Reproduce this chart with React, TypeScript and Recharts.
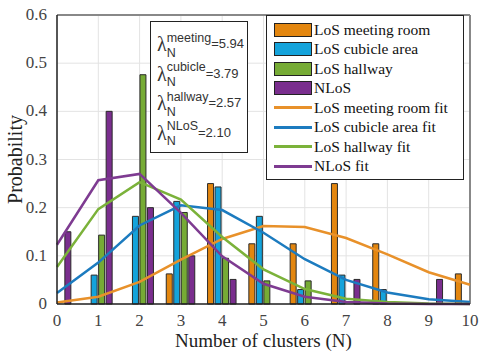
import React from 'react';
import { ComposedChart, Bar, Line, XAxis, YAxis, CartesianGrid, Legend, ReferenceLine } from 'recharts';

const clusters = [0, 1, 2, 3, 4, 5, 6, 7, 8, 9, 10];
const yTicks = [0, 0.1, 0.2, 0.3, 0.4, 0.5, 0.6];

// measured histogram, null = no bar
const meetingBars = [null, null, null, 0.0625, 0.25, 0.125, 0.125, 0.25, 0.125, null, 0.0625];
const cubicleBars = [null, 0.06, 0.182, 0.213, 0.243, 0.182, 0.03, 0.06, 0.03, null, null];
const hallwayBars = [null, 0.143, 0.476, 0.19, 0.095, 0.048, 0.048, null, null, null, null];
const nlosBars = [0.15, 0.4, 0.2, 0.1, 0.051, null, null, 0.051, null, 0.051, null];

// fitted curves
const meetingFit = [0.003, 0.015, 0.046, 0.092, 0.135, 0.162, 0.16, 0.137, 0.103, 0.066, 0.04];
const cubicleFit = [0.023, 0.086, 0.163, 0.205, 0.195, 0.148, 0.093, 0.05, 0.024, 0.01, 0.004];
const hallwayFit = [0.077, 0.197, 0.253, 0.217, 0.139, 0.072, 0.031, 0.011, 0.004, 0.001, 0];
const nlosFit = [0.123, 0.257, 0.27, 0.189, 0.099, 0.042, 0.015, 0.004, 0.001, 0, 0];

const lambdas = [
  { sup: 'meeting', value: '5.94' },
  { sup: 'cubicle', value: '3.79' },
  { sup: 'hallway', value: '2.57' },
  { sup: 'NLoS', value: '2.10' },
];

const barSeries = [
  { key: 'meeting', name: 'LoS meeting room', color: '#E3860F' },
  { key: 'cubicle', name: 'LoS cubicle area', color: '#14A3DB' },
  { key: 'hallway', name: 'LoS hallway', color: '#76AB35' },
  { key: 'nlos', name: 'NLoS', color: '#7A2E8E' },
];

const lineSeries = [
  { key: 'meetingFit', name: 'LoS meeting room fit', color: '#E8912A' },
  { key: 'cubicleFit', name: 'LoS cubicle area fit', color: '#1C7BBF' },
  { key: 'hallwayFit', name: 'LoS hallway fit', color: '#7BB23A' },
  { key: 'nlosFit', name: 'NLoS fit', color: '#7E3B91' },
];

const data = clusters.map((n, i) => ({
  n,
  meeting: meetingBars[i],
  cubicle: cubicleBars[i],
  hallway: hallwayBars[i],
  nlos: nlosBars[i],
  meetingFit: meetingFit[i],
  cubicleFit: cubicleFit[i],
  hallwayFit: hallwayFit[i],
  nlosFit: nlosFit[i],
}));

const serif = '"Liberation Serif", "Times New Roman", serif';
const sans = '"Liberation Sans", Arial, sans-serif';

const LegendBox = () => (
  <div style={{ border: '1px solid #222', background: '#fff', width: 198, padding: '4px 0 3px 7px', boxSizing: 'border-box', fontFamily: serif, fontSize: 15.5, color: '#111' }}>
    {barSeries.map(s => (
      <div key={s.key} style={{ display: 'flex', alignItems: 'center', height: 19.5 }}>
        <span style={{ width: 36, height: 12, background: s.color, border: '1px solid #222', marginRight: 2 }} />
        <span>{s.name}</span>
      </div>
    ))}
    {lineSeries.map(s => (
      <div key={s.key} style={{ display: 'flex', alignItems: 'center', height: 19.5 }}>
        <span style={{ width: 38, height: 3, background: s.color, marginRight: 2 }} />
        <span>{s.name}</span>
      </div>
    ))}
  </div>
);

const LambdaBox = () => (
  <div style={{ position: 'absolute', left: 150, top: 21, width: 98, height: 132, border: '1px solid #222', background: '#fff', boxSizing: 'border-box', padding: '8px 0 0 6px', color: '#333' }}>
    {lambdas.map(l => (
      <div key={l.sup} style={{ display: 'flex', alignItems: 'center', height: 29.5 }}>
        <span style={{ fontFamily: serif, fontSize: 20 }}>λ</span>
        <span style={{ display: 'inline-flex', flexDirection: 'column', fontFamily: sans, fontSize: 12.5, lineHeight: '15px', marginTop: 2 }}>
          <span>{l.sup}</span>
          <span>N</span>
        </span>
        <span style={{ fontFamily: sans, fontSize: 13, marginTop: -2 }}>={l.value}</span>
      </div>
    ))}
  </div>
);

const XTick = (props: any) => {
  const { x, y, payload } = props;
  return (
    <text x={x} y={y + 11} textAnchor="middle" style={{ fontFamily: serif, fontSize: 17, fill: '#444' }}>
      {payload.value}
    </text>
  );
};

const YTick = (props: any) => {
  const { x, y, payload } = props;
  return (
    <text x={x} y={y + 5} textAnchor="end" style={{ fontFamily: serif, fontSize: 17, fill: '#444' }}>
      {payload.value}
    </text>
  );
};

export default function App() {
  return (
    <div style={{ position: 'absolute', left: 0, top: 0, width: 498, height: 356, background: '#fff', fontFamily: serif }}>
      <ComposedChart width={498} height={356} data={data} margin={{ top: 15, right: 28, left: 0, bottom: 0 }} barSize={6} barGap={1.5}>
        <CartesianGrid stroke="#e3e3e3" />
        <XAxis
          dataKey="n"
          type="number"
          domain={[0, 10]}
          ticks={clusters}
          height={52}
          tickLine={false}
          tickMargin={5}
          axisLine={{ stroke: '#222', strokeWidth: 1.5 }}
          tick={<XTick />}
          label={{ value: 'Number of clusters (N)', position: 'insideBottom', offset: 9, style: { fontFamily: serif, fontSize: 19, fill: '#222' } }}
        />
        <YAxis
          type="number"
          domain={[0, 0.6]}
          ticks={yTicks}
          width={57}
          tickLine={false}
          tickMargin={4}
          axisLine={{ stroke: '#222', strokeWidth: 1.5 }}
          tick={<YTick />}
          label={{ value: 'Probability', angle: -90, position: 'insideLeft', offset: 15, style: { fontFamily: serif, fontSize: 20, fill: '#222', textAnchor: 'middle' } }}
        />
        <ReferenceLine y={0.6} stroke="#888" strokeWidth={2} />
        <ReferenceLine x={10} stroke="#888" strokeWidth={2} />
        {barSeries.map(s => (
          <Bar key={s.key} dataKey={s.key} name={s.name} fill={s.color} stroke="#2a2a2a" strokeWidth={1} isAnimationActive={false} />
        ))}
        {lineSeries.map(s => (
          <Line key={s.key} dataKey={s.key} name={s.name} type="linear" stroke={s.color} strokeWidth={2.5} dot={false} isAnimationActive={false} />
        ))}
        <Legend
          layout="horizontal"
          verticalAlign="middle"
          align="center"
          content={() => <LegendBox />}
          wrapperStyle={{ left: 266, top: 15, width: 198 }}
        />
      </ComposedChart>
      <LambdaBox />
    </div>
  );
}
